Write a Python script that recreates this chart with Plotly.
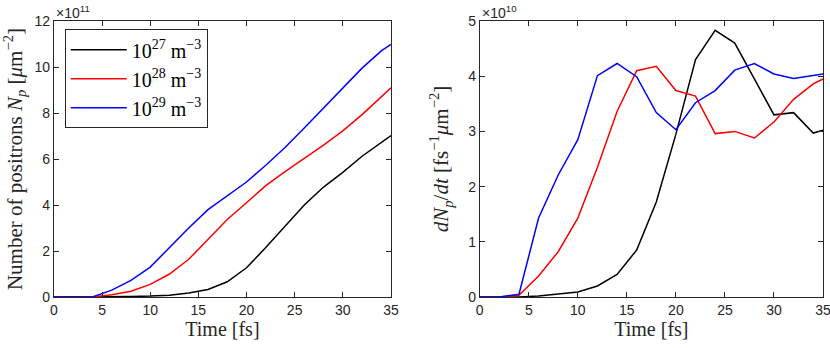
import plotly.graph_objects as go
from plotly.subplots import make_subplots

# time samples [fs]
time = [0, 2, 4, 6, 8, 10, 12, 14, 16, 18, 20, 22, 24, 26, 28, 30, 32, 34, 35]

# positron number N_p, in units of 1e11 um^-2
np_1e27 = [0, 0, 0, 0.01, 0.02, 0.04, 0.08, 0.17, 0.33, 0.66, 1.27, 2.15, 3.08, 4.0, 4.78, 5.42, 6.12, 6.7, 7.02]
np_1e28 = [0, 0, 0, 0.1, 0.25, 0.55, 1.0, 1.64, 2.51, 3.37, 4.1, 4.84, 5.45, 6.03, 6.6, 7.22, 7.93, 8.7, 9.1]
np_1e29 = [0, 0, 0, 0.3, 0.72, 1.3, 2.15, 3.0, 3.8, 4.42, 5.0, 5.73, 6.5, 7.35, 8.22, 9.08, 9.95, 10.7, 10.98]

# production rate dN_p/dt, in units of 1e10 fs^-1 um^-2
rate_1e27 = [0, 0, 0.0, 0.02, 0.05, 0.09, 0.2, 0.41, 0.85, 1.72, 2.95, 4.3, 4.83, 4.6, 3.95, 3.3, 3.34, 2.97, 3.02]
rate_1e28 = [0, 0, 0.03, 0.38, 0.82, 1.43, 2.35, 3.36, 4.1, 4.18, 3.74, 3.64, 2.96, 3.0, 2.88, 3.17, 3.58, 3.86, 3.95]
rate_1e29 = [0, 0, 0.05, 1.43, 2.21, 2.85, 4.01, 4.23, 3.99, 3.34, 3.03, 3.52, 3.74, 4.11, 4.23, 4.04, 3.96, 4.02, 4.04]

labels = ["10<sup>27</sup> m<sup>−3</sup>", "10<sup>28</sup> m<sup>−3</sup>", "10<sup>29</sup> m<sup>−3</sup>"]
colors = ["#000000", "#ff0000", "#0000ff"]

AX = "#262626"
SERIF = "Liberation Serif"
SANS = "Liberation Sans, Arial, sans-serif"

fig = make_subplots(rows=1, cols=2)

for ys, rs, lab, col in zip([np_1e27, np_1e28, np_1e29], [rate_1e27, rate_1e28, rate_1e29], labels, colors):
    fig.add_trace(go.Scatter(x=time, y=ys, mode="lines", name=lab,
                             line=dict(color=col, width=1.5)), row=1, col=1)
    fig.add_trace(go.Scatter(x=time, y=rs, mode="lines", name=lab, showlegend=False,
                             line=dict(color=col, width=1.5)), row=1, col=2)

axis_common = dict(
    showline=True, linecolor=AX, linewidth=1, mirror="ticks",
    ticks="inside", ticklen=5, tickcolor=AX, tickwidth=1,
    showgrid=False, zeroline=False,
    tickfont=dict(family=SANS, size=14, color=AX),
    ticklabeloverflow="allow",
    automargin=False,
)

fig.update_xaxes(range=[0, 35], dtick=5, **axis_common,
                 title=dict(text="Time [fs]", font=dict(family=SERIF, size=20, color=AX), standoff=2))
fig.update_yaxes(**axis_common)
fig.update_xaxes(domain=[0.065, 0.471], row=1, col=1)
fig.update_xaxes(domain=[0.578, 0.9916], row=1, col=2)
fig.update_yaxes(range=[0, 12], dtick=2, row=1, col=1,
                 title=dict(text="Number of positrons <i>N<sub>p</sub></i> [<i>μ</i>m<sup>−2</sup>]",
                            font=dict(family=SERIF, size=21, color=AX), standoff=16))
fig.update_yaxes(range=[0, 5], dtick=1, row=1, col=2,
                 title=dict(text="<i>dN<sub>p</sub></i>/<i>dt</i> [fs<sup>−1</sup><i>μ</i>m<sup>−2</sup>]",
                            font=dict(family=SERIF, size=21, color=AX), standoff=13))

for xpos, txt in [(0.065, "×10<sup>11</sup>"), (0.578, "×10<sup>10</sup>")]:
    fig.add_annotation(x=xpos, y=1.0, xref="paper", yref="paper", xanchor="left", yanchor="bottom",
                       text=txt, showarrow=False, font=dict(family=SANS, size=14, color=AX), yshift=-2)

fig.update_layout(
    width=830, height=348,
    margin=dict(l=0, r=0, t=21, b=51),
    plot_bgcolor="white", paper_bgcolor="white",
    legend=dict(x=0.078, y=0.97, xanchor="left", yanchor="top",
                bordercolor=AX, borderwidth=1, bgcolor="white",
                font=dict(family=SERIF, size=20, color="#000000"),
                tracegroupgap=0, itemwidth=56),
)

# page body has a default 8px margin; drop it so the figure fills the window
fig.write_html("out.html", config={"displayModeBar": False},
               post_script="document.body.style.margin='0';")
